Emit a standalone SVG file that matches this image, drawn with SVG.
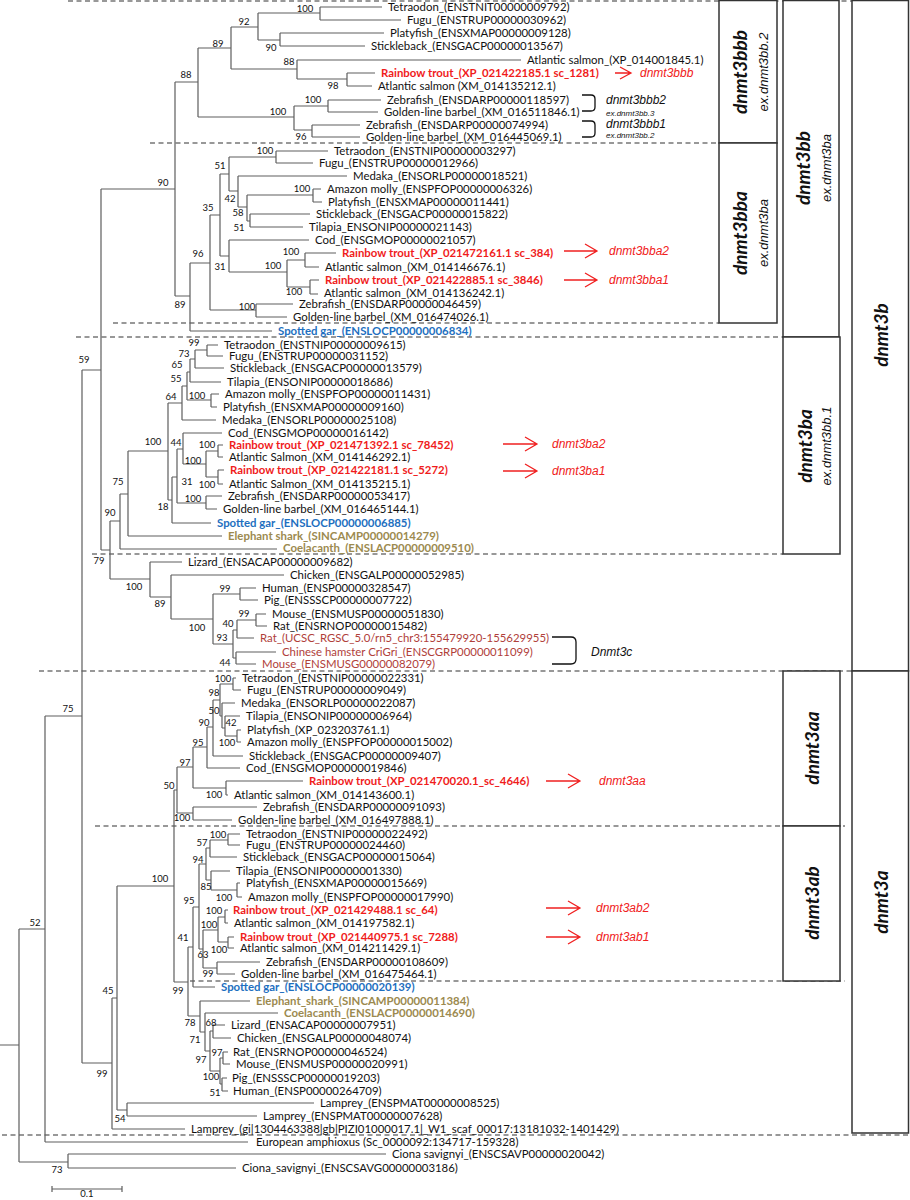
<svg xmlns="http://www.w3.org/2000/svg" width="910" height="1200" viewBox="0 0 910 1200">
<style>
text{font-family:Lato,"Liberation Sans",sans-serif}
.t{font-size:11.4px;fill:#111}
.rt{font-size:11.4px;fill:#f01c1c;font-weight:bold}
.sg{font-size:11.4px;fill:#1e6fc0;font-weight:bold}
.ol{font-size:11.4px;fill:#9c8a4f;font-weight:bold}
.dc{font-size:11.4px;fill:#b0403a}
.b{font-size:9.5px;fill:#111;text-anchor:middle}
.tree{fill:none;stroke:#5e5e5e;stroke-width:1.2}
.dash{fill:none;stroke:#333;stroke-width:1.2;stroke-dasharray:5 3.5}
.box{fill:#fff;stroke:#333;stroke-width:1.5}
.bx{font-size:19px;font-weight:bold;font-style:italic;fill:#111;text-anchor:middle}
.ex{font-family:"Liberation Sans",sans-serif;font-size:13px;font-style:italic;fill:#111;text-anchor:middle}
.gl{font-family:"Liberation Sans",sans-serif;font-size:12px;font-style:italic;fill:#f02020}
.gk{font-family:"Liberation Sans",sans-serif;font-size:12px;font-style:italic;fill:#111}
.gs{font-family:"Liberation Sans",sans-serif;font-size:8px;font-style:italic;fill:#111}
.arr{fill:none;stroke:#f02020;stroke-width:1.3}
.brk{fill:none;stroke:#111;stroke-width:1.3}
</style>

<g id="separators">
<path class="dash" d="M68,1H852 M150,143H719 M113,323H719 M76,337H783 M92,554H783 M39,671H852 M95,826H845 M190,981H845 M2,1135H908"/>
</g>

<g id="boxes">
<g id="box-dnmt3bbb"><rect class="box" x="719" y="0.5" width="58" height="142.5"/><text class="bx" transform="translate(740,72) rotate(-90)" dy="0.35em">dnmt3bbb</text><text class="ex" transform="translate(763,72) rotate(-90)" dy="0.35em">ex.dnmt3bb.2</text></g>
<g id="box-dnmt3bba"><rect class="box" x="719" y="143" width="58" height="180"/><text class="bx" transform="translate(740,233) rotate(-90)" dy="0.35em">dnmt3bba</text><text class="ex" transform="translate(763,233) rotate(-90)" dy="0.35em">ex.dnmt3ba</text></g>
<g id="box-dnmt3bb"><rect class="box" x="783" y="0.5" width="56" height="336.5"/><text class="bx" transform="translate(803,168) rotate(-90)" dy="0.35em">dnmt3bb</text><text class="ex" transform="translate(826,168) rotate(-90)" dy="0.35em">ex.dnmt3ba</text></g>
<g id="box-dnmt3ba"><rect class="box" x="783" y="337" width="57" height="217"/><text class="bx" transform="translate(805,446) rotate(-90)" dy="0.35em">dnmt3ba</text><text class="ex" transform="translate(826,446) rotate(-90)" dy="0.35em">ex.dnmt3bb.1</text></g>
<g id="box-dnmt3b"><rect class="box" x="852" y="0.5" width="56.5" height="670.5"/><text class="bx" transform="translate(881,335) rotate(-90)" dy="0.35em">dnmt3b</text></g>
<g id="box-dnmt3aa"><rect class="box" x="783" y="671" width="57" height="155"/><text class="bx" transform="translate(812,748) rotate(-90)" dy="0.35em">dnmt3aa</text></g>
<g id="box-dnmt3ab"><rect class="box" x="783" y="826" width="57" height="155"/><text class="bx" transform="translate(812,903) rotate(-90)" dy="0.35em">dnmt3ab</text></g>
<g id="box-dnmt3a"><rect class="box" x="852" y="671" width="56.5" height="462"/><text class="bx" transform="translate(881,902) rotate(-90)" dy="0.35em">dnmt3a</text></g>
</g>

<g id="connectors">
<path class="tree" d="M0,1045H19 M19,929V1162 M19,929H45 M45,716V1142 M45,1142H248 M19,1162H68 M68,1154V1168 M68,1154H386 M68,1168H236
M45,716H82 M82,370V1063 M82,370H101 M101,189V550
M101,189H175 M175,82V296
M175,82H198 M198,48V117 M198,48H231 M231,27V69 M231,27H258 M258,13V40
M258,13H320 M320,7V20 M320,7H382 M320,20H401
M258,40H280 M280,33V46 M280,33H384 M280,46H365
M231,69H297 M297,60V79 M297,60H521 M297,79H347 M347,73V86 M347,73H375 M347,86H372
M198,117H294 M294,106V130 M294,106H328 M328,100V112 M328,100H381 M328,112H378
M294,130H312 M312,125V137 M312,125H360 M312,137H360
M175,296H190 M190,263V331 M190,331H272
M190,263H210 M210,215V310 M210,215H220 M220,174V256 M220,174H229 M229,157V191
M229,157H276 M276,151V163 M276,151H328 M276,163H313
M229,191H238 M238,176V207 M238,176H347 M238,207H247 M247,195V221
M247,195H313 M313,189V202 M313,189H321 M313,202H322
M247,221H250 M250,214V227 M250,214H310 M250,227H303
M220,256H229 M229,240V272 M229,240H309 M229,272H287 M287,260V287
M287,260H305 M305,253V267 M305,253H336 M305,267H319
M287,287H310 M310,280V294 M310,280H319 M310,294H318
M210,310H256 M256,304V317 M256,304H293 M256,317H287
M101,550H110 M110,521V579 M110,521H120 M120,494V549 M120,549H277
M120,494H128 M128,451V536 M128,536H222 M128,451H168 M168,403V500
M168,403H182 M182,386V420 M182,420H216 M182,386H187 M187,372V400
M187,372H190 M190,359V382 M190,382H221 M190,359H195 M195,350V368 M195,368H224
M195,350H207 M207,345V356 M207,345H218 M207,356H223
M187,400H211 M211,394V407 M211,394H219 M211,407H217
M168,500H172 M172,477V523 M172,523H211 M172,477H177 M177,449V503
M177,449H183 M183,433V464 M183,433H222 M183,464H206 M206,451V477
M206,451H218 M218,445V457 M218,445H223 M218,457H223
M206,477H218 M218,470V484 M218,470H224 M218,484H223
M177,503H206 M206,496V509 M206,496H222 M206,509H217
M110,579H150 M150,562V597 M150,562H182 M150,597H171 M171,575V619 M171,575H284
M171,619H213 M213,594V644 M213,594H240 M240,588V600 M240,588H256 M240,600H258
M213,644H233 M233,630V658 M233,630H237 M237,620V638 M237,638H254
M237,620H256 M256,614V626 M256,614H266 M256,626H267
M233,658H236 M236,652V664 M236,652H276 M236,664H256
M82,1063H112 M112,998V1129 M112,1129H185 M112,998H117 M117,886V1110
M117,1110H127 M127,1103V1116 M127,1103H314 M127,1116H257
M117,886H174 M174,790V982 M174,790H177 M177,767V813
M177,767H193 M193,747V788 M193,747H207 M207,727V768 M207,768H240
M207,727H213 M213,700V756 M213,756H243 M213,700H220 M220,684V716
M220,684H233 M233,678V690 M233,678H236 M233,690H241
M220,716H222 M222,703V728 M222,703H235 M222,728H225 M225,716V736 M225,716H240
M225,736H237 M237,730V742 M237,730H241 M237,742H241
M193,788H226 M226,781V795 M226,781H303 M226,795H228
M177,813H193 M193,807V820 M193,807H257 M193,820H232
M174,982H188 M188,947V1016 M188,947H193 M193,907V987 M193,987H215
M193,907H199 M199,864V949 M199,864H206 M206,848V880
M206,848H210 M210,840V857 M210,857H237 M210,840H228 M228,834V845 M228,834H240 M228,845H240
M206,880H211 M211,871V890 M211,871H230 M211,890H237 M237,883V897 M237,883H240 M237,897H242
M199,949H203 M203,930V968 M203,930H218 M218,917V942
M218,917H225 M225,910V923 M225,910H228 M225,923H228
M218,942H228 M228,937V948 M228,937H234 M228,948H234
M203,968H217 M217,962V974 M217,962H260 M217,974H235
M188,1016H200 M200,1001V1032 M200,1001H250 M200,1032H205 M205,1013V1051 M205,1013H278
M205,1051H210 M210,1031V1071 M210,1031H213 M213,1025V1038 M213,1025H225 M213,1038H231
M210,1071H220 M220,1058V1084 M220,1058H223 M223,1052V1064 M223,1052H228 M223,1064H230
M220,1084H222 M222,1078V1091 M222,1078H227 M222,1091H228"/>
<path class="arr" d="M615,73H631 M620,67L631,73L620,79 M564,251H597 M585,244L597,251L585,258 M564,280H597 M585,273L597,280L585,287 M503,444H537 M525,437L537,444L525,451 M503,471H537 M525,464L537,471L525,478 M546,781H580 M568,774L580,781L568,788 M546,908H580 M568,901L580,908L568,915 M546,937H580 M568,930L580,937L568,944"/>
<path class="brk" d="M582,95H591Q595,95 595,99V107Q595,111 591,111H582 M582,121H591Q595,121 595,125V133Q595,137 591,137H582 M552,637H571Q576,637 576,642V659Q576,664 571,664H552"/>
<path class="tree" d="M52,1186V1192 M52,1189H122 M122,1186V1192"/>
</g>

<g id="leaves">
<text class="t" x="388" y="11">Tetraodon_(ENSTNIT00000009792)</text>
<text class="t" x="407" y="24">Fugu_(ENSTRUP00000030962)</text>
<text class="t" x="390" y="37">Platyfish_(ENSXMAP00000009128)</text>
<text class="t" x="371" y="50">Stickleback_(ENSGACP00000013567)</text>
<text class="t" x="527" y="64">Atlantic salmon_(XP_014001845.1)</text>
<text class="rt" x="381" y="77">Rainbow trout_(XP_021422185.1 sc_1281)</text>
<text class="t" x="378" y="90">Atlantic salmon (XM_014135212.1)</text>
<text class="t" x="387" y="104">Zebrafish_(ENSDARP00000118597)</text>
<text class="t" x="384" y="116">Golden-line barbel_(XM_016511846.1)</text>
<text class="t" x="366" y="129">Zebrafish_(ENSDARP00000074994)</text>
<text class="t" x="366" y="141">Golden-line barbel_(XM_016445069.1)</text>
<text class="t" x="334" y="155">Tetraodon_(ENSTNIP00000003297)</text>
<text class="t" x="319" y="167">Fugu_(ENSTRUP00000012966)</text>
<text class="t" x="353" y="180">Medaka_(ENSORLP00000018521)</text>
<text class="t" x="327" y="193">Amazon molly_(ENSPFOP00000006326)</text>
<text class="t" x="328" y="206">Platyfish_(ENSXMAP00000011441)</text>
<text class="t" x="316" y="218">Stickleback_(ENSGACP00000015822)</text>
<text class="t" x="309" y="231">Tilapia_ENSONIP00000021143)</text>
<text class="t" x="315" y="244">Cod_(ENSGMOP00000021057)</text>
<text class="rt" x="342" y="257">Rainbow trout_(XP_021472161.1 sc_384)</text>
<text class="t" x="325" y="271">Atlantic salmon_(XM_014146676.1)</text>
<text class="rt" x="325" y="284">Rainbow trout_(XP_021422885.1 sc_3846)</text>
<text class="t" x="324" y="297">Atlantic salmon_(XM_014136242.1)</text>
<text class="t" x="299" y="308">Zebrafish_(ENSDARP00000046459)</text>
<text class="t" x="293" y="321">Golden-line barbel_(XM_016474026.1)</text>
<text class="sg" x="278" y="335">Spotted gar_(ENSLOCP00000006834)</text>
<text class="t" x="224" y="349">Tetraodon_(ENSTNIP00000009615)</text>
<text class="t" x="229" y="360">Fugu_(ENSTRUP00000031152)</text>
<text class="t" x="230" y="372">Stickleback_(ENSGACP00000013579)</text>
<text class="t" x="227" y="386">Tilapia_(ENSONIP00000018686)</text>
<text class="t" x="225" y="398">Amazon molly_(ENSPFOP00000011431)</text>
<text class="t" x="223" y="411">Platyfish_(ENSXMAP00000009160)</text>
<text class="t" x="222" y="424">Medaka_(ENSORLP00000025108)</text>
<text class="t" x="228" y="437">Cod_(ENSGMOP00000016142)</text>
<text class="rt" x="229" y="449">Rainbow trout_(XP_021471392.1 sc_78452)</text>
<text class="t" x="229" y="461">Atlantic Salmon_(XM_014146292.1)</text>
<text class="rt" x="230" y="474">Rainbow trout_(XP_021422181.1 sc_5272)</text>
<text class="t" x="229" y="488">Atlantic Salmon_(XM_014135215.1)</text>
<text class="t" x="228" y="500">Zebrafish_(ENSDARP00000053417)</text>
<text class="t" x="223" y="513">Golden-line barbel_(XM_016465144.1)</text>
<text class="sg" x="217" y="527">Spotted gar_(ENSLOCP00000006885)</text>
<text class="ol" x="228" y="540">Elephant shark_(SINCAMP00000014279)</text>
<text class="ol" x="283" y="552">Coelacanth_(ENSLACP00000009510)</text>
<text class="t" x="188" y="566">Lizard_(ENSACAP00000009682)</text>
<text class="t" x="290" y="579">Chicken_(ENSGALP00000052985)</text>
<text class="t" x="262" y="592">Human_(ENSP00000328547)</text>
<text class="t" x="264" y="604">Pig_(ENSSSCP00000007722)</text>
<text class="t" x="272" y="618">Mouse_(ENSMUSP00000051830)</text>
<text class="t" x="273" y="630">Rat_(ENSRNOP00000015482)</text>
<text class="dc" x="260" y="642">Rat_(UCSC_RGSC_5.0/rn5_chr3:155479920-155629955)</text>
<text class="dc" x="282" y="656">Chinese hamster CriGri_(ENSCGRP00000011099)</text>
<text class="dc" x="262" y="668">Mouse_(ENSMUSG00000082079)</text>
<text class="t" x="242" y="682">Tetraodon_(ENSTNIP00000022331)</text>
<text class="t" x="247" y="694">Fugu_(ENSTRUP00000009049)</text>
<text class="t" x="241" y="707">Medaka_(ENSORLP00000022087)</text>
<text class="t" x="246" y="720">Tilapia_(ENSONIP00000006964)</text>
<text class="t" x="247" y="734">Platyfish_(XP_023203761.1)</text>
<text class="t" x="247" y="746">Amazon molly_(ENSPFOP00000015002)</text>
<text class="t" x="249" y="760">Stickleback_(ENSGACP00000009407)</text>
<text class="t" x="246" y="772">Cod_(ENSGMOP00000019846)</text>
<text class="rt" x="309" y="785">Rainbow trout_(XP_021470020.1_sc_4646)</text>
<text class="t" x="234" y="799">Atlantic salmon_(XM_014143600.1)</text>
<text class="t" x="263" y="811">Zebrafish_(ENSDARP00000091093)</text>
<text class="t" x="238" y="824">Golden-line barbel_(XM_016497888.1)</text>
<text class="t" x="246" y="838">Tetraodon_(ENSTNIP00000022492)</text>
<text class="t" x="246" y="849">Fugu_(ENSTRUP00000024460)</text>
<text class="t" x="243" y="861">Stickleback_(ENSGACP00000015064)</text>
<text class="t" x="236" y="875">Tilapia_(ENSONIP00000001330)</text>
<text class="t" x="246" y="887">Platyfish_(ENSXMAP00000015669)</text>
<text class="t" x="248" y="901">Amazon molly_(ENSPFOP00000017990)</text>
<text class="rt" x="233" y="914">Rainbow trout_(XP_021429488.1 sc_64)</text>
<text class="t" x="234" y="927">Atlantic salmon_(XM_014197582.1)</text>
<text class="rt" x="240" y="941">Rainbow trout_(XP_021440975.1 sc_7288)</text>
<text class="t" x="240" y="952">Atlantic salmon_(XM_014211429.1)</text>
<text class="t" x="266" y="966">Zebrafish_(ENSDARP00000108609)</text>
<text class="t" x="241" y="978">Golden-line barbel_(XM_016475464.1)</text>
<text class="sg" x="221" y="991">Spotted gar_(ENSLOCP00000020139)</text>
<text class="ol" x="256" y="1005">Elephant_shark_(SINCAMP00000011384)</text>
<text class="ol" x="284" y="1017">Coelacanth_(ENSLACP00000014690)</text>
<text class="t" x="231" y="1029">Lizard_(ENSACAP00000007951)</text>
<text class="t" x="237" y="1042">Chicken_(ENSGALP00000048074)</text>
<text class="t" x="233" y="1056">Rat_(ENSRNOP00000046524)</text>
<text class="t" x="236" y="1068">Mouse_(ENSMUSP00000020991)</text>
<text class="t" x="232" y="1082">Pig_(ENSSSCP00000019203)</text>
<text class="t" x="233" y="1095">Human_(ENSP00000264709)</text>
<text class="t" x="320" y="1107">Lamprey_(ENSPMAT00000008525)</text>
<text class="t" x="263" y="1120">Lamprey_(ENSPMAT00000007628)</text>
<text class="t" x="191" y="1133">Lamprey_(gi|1304463388|gb|PIZI01000017.1|_W1_scaf_00017:13181032-1401429)</text>
<text class="t" x="256" y="1146">European amphioxus (Sc_0000092:134717-159328)</text>
<text class="t" x="392" y="1158">Ciona savignyi_(ENSCSAVP00000020042)</text>
<text class="t" x="242" y="1172">Ciona_savignyi_(ENSCSAVG00000003186)</text>
</g>

<g id="support">
<text class="b" x="305" y="12">100</text><text class="b" x="244" y="25">92</text><text class="b" x="218" y="47">89</text><text class="b" x="271" y="51">90</text><text class="b" x="289" y="65">88</text><text class="b" x="186" y="78">88</text><text class="b" x="333" y="89">98</text><text class="b" x="313" y="103">100</text><text class="b" x="278" y="115">100</text><text class="b" x="301" y="140">96</text>
<text class="b" x="265" y="154">100</text><text class="b" x="220" y="169">51</text><text class="b" x="163" y="186">90</text><text class="b" x="302" y="192">100</text><text class="b" x="230" y="202">42</text><text class="b" x="208" y="211">35</text><text class="b" x="238" y="216">58</text><text class="b" x="239" y="231">51</text><text class="b" x="291" y="255">100</text><text class="b" x="198" y="257">96</text><text class="b" x="273" y="269">100</text><text class="b" x="220" y="270">31</text><text class="b" x="294" y="295">100</text><text class="b" x="180" y="308">89</text><text class="b" x="247" y="310">100</text>
<text class="b" x="194" y="346">99</text><text class="b" x="184" y="357">73</text><text class="b" x="84" y="363">59</text><text class="b" x="177" y="368">65</text><text class="b" x="176" y="382">55</text><text class="b" x="171" y="400">64</text><text class="b" x="197" y="399">100</text><text class="b" x="153" y="445">100</text><text class="b" x="176" y="446">44</text><text class="b" x="207" y="448">100</text><text class="b" x="193" y="464">100</text><text class="b" x="118" y="485">75</text><text class="b" x="187" y="485">31</text><text class="b" x="207" y="488">100</text><text class="b" x="193" y="502">100</text><text class="b" x="163" y="510">18</text><text class="b" x="110" y="516">90</text><text class="b" x="99" y="564">79</text>
<text class="b" x="134" y="590">100</text><text class="b" x="225" y="592">99</text><text class="b" x="160" y="607">89</text><text class="b" x="244" y="617">99</text><text class="b" x="228" y="627">40</text><text class="b" x="197" y="631">100</text><text class="b" x="222" y="641">93</text><text class="b" x="225" y="666">44</text>
<text class="b" x="223" y="682">100</text><text class="b" x="214" y="696">98</text><text class="b" x="68" y="712">75</text><text class="b" x="214" y="714">50</text><text class="b" x="204" y="726">90</text><text class="b" x="231" y="726">42</text><text class="b" x="198" y="746">95</text><text class="b" x="227" y="746">100</text><text class="b" x="185" y="766">97</text><text class="b" x="169" y="789">50</text><text class="b" x="214" y="798">100</text><text class="b" x="182" y="821">100</text>
<text class="b" x="218" y="838">100</text><text class="b" x="202" y="846">57</text><text class="b" x="198" y="863">94</text><text class="b" x="160" y="882">100</text><text class="b" x="206" y="890">85</text><text class="b" x="224" y="901">100</text><text class="b" x="189" y="904">95</text><text class="b" x="214" y="914">100</text><text class="b" x="209" y="928">100</text><text class="b" x="35" y="926">52</text><text class="b" x="183" y="941">41</text><text class="b" x="219" y="953">100</text><text class="b" x="203" y="958">63</text><text class="b" x="208" y="977">99</text>
<text class="b" x="108" y="994">45</text><text class="b" x="178" y="994">99</text><text class="b" x="190" y="1026">78</text><text class="b" x="211" y="1026">68</text><text class="b" x="195" y="1043">71</text><text class="b" x="217" y="1056">97</text><text class="b" x="201" y="1063">97</text><text class="b" x="102" y="1077">99</text><text class="b" x="211" y="1080">100</text><text class="b" x="215" y="1096">51</text><text class="b" x="120" y="1122">54</text><text class="b" x="57" y="1173">73</text>
<text class="b" x="87" y="1197">0.1</text>
</g>

<g id="gene-labels">
<text class="gl" x="640" y="77">dnmt3bbb</text>
<text class="gk" x="606" y="104">dnmt3bbb2</text><text class="gs" x="606" y="116">ex.dnmt3bb.3</text>
<text class="gk" x="606" y="128">dnmt3bbb1</text><text class="gs" x="606" y="138">ex.dnmt3bb.2</text>
<text class="gl" x="609" y="255">dnmt3bba2</text>
<text class="gl" x="609" y="284">dnmt3bba1</text>
<text class="gl" x="552" y="448">dnmt3ba2</text>
<text class="gl" x="552" y="475">dnmt3ba1</text>
<text class="gk" x="591" y="656">Dnmt3c</text>
<text class="gl" x="599" y="785">dnmt3aa</text>
<text class="gl" x="596" y="912">dnmt3ab2</text>
<text class="gl" x="596" y="941">dnmt3ab1</text>
</g>
</svg>
